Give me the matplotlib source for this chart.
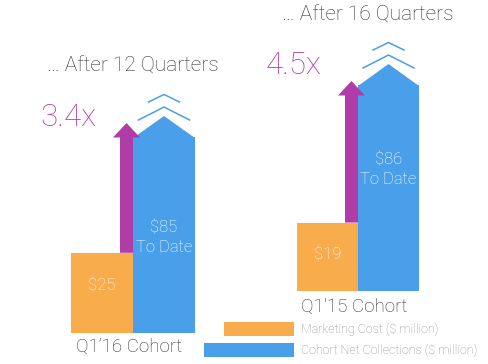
import matplotlib
matplotlib.use('Agg')
import matplotlib.pyplot as plt
from matplotlib.patches import Polygon, Rectangle
from matplotlib.lines import Line2D
from matplotlib.transforms import IdentityTransform
import numpy as np

# ---------------- data ----------------
cohorts = ["Q1\u201916 Cohort", "Q1'15 Cohort"]
periods = ["\u2026 After 12 Quarters", "\u2026 After 16 Quarters"]
marketing_cost = [25, 19]
net_collections = [85, 86]
legend_labels = ["Marketing Cost ($ million)", "Cohort Net Collections ($ million)"]

# ---------------- style ----------------
ORANGE = '#F8AC4C'
BLUE = '#4A9FEA'
PURPLE = '#B03CA8'
DARK = '#333333'
GREY = '#8C8C8C'
FONT = ['Roboto', 'DejaVu Sans']
W, H = 488, 364

fig = plt.figure(figsize=(W / 100, H / 100), dpi=100)
ident = IdentityTransform()

def top_px(x, y):
    """pixel (from top-left) -> display coords"""
    return (x, H - y)

P = 0.73
fwd = lambda v: np.sign(v) * np.abs(v) ** P
inv = lambda v: np.sign(v) * np.abs(v) ** (1 / P)

# layout (pixels from top-left): left, baseline, width, height
axes_px = [(71, 333, 124, 196), (297, 291, 122, 206)]
title_px = [(133, 66), (368, 15)]
cohort_px = [(129, 347), (354, 307)]
orange_label_y = [286, 255]
blue_label_y = [(228, 248), (160, 180)]
tip_offset = [14, 4]

for i in range(2):
    l, b, w, h = axes_px[i]
    ax = fig.add_axes([l / W, (H - b) / H, w / W, h / H])
    ax.set_yscale('function', functions=(fwd, inv))
    ax.set_xlim(0, 2)
    ax.set_ylim(0, net_collections[i])
    ax.axis('off')
    ax.bar([0, 1], [marketing_cost[i], net_collections[i]], width=1, align='edge',
           color=[ORANGE, BLUE], linewidth=0, clip_on=False, zorder=1)

    mc, nc = marketing_cost[i], net_collections[i]
    bl = ax.transData.transform((1, nc))
    br = ax.transData.transform((2, nc))
    ot = ax.transData.transform((1, mc))
    ol = ax.transData.transform((0, mc))
    cx = (bl[0] + br[0]) / 2
    top = bl[1]

    # blue arrow head
    fig.add_artist(Polygon([(bl[0], top - 1), (cx, top + 21), (br[0], top - 1)], closed=True,
                           facecolor=BLUE, edgecolor='none', transform=ident, zorder=2))
    # chevrons
    for half, dy_end, dy_peak in [(25.5, 17, 30), (15.5, 35, 42.5)]:
        fig.add_artist(Line2D([cx - half, cx, cx + half],
                              [top + dy_end, top + dy_peak, top + dy_end],
                              color=BLUE, lw=1.1, transform=ident, zorder=2,
                              solid_joinstyle='miter'))
    # purple arrow
    ax_c = bl[0] - 6.5
    tip = top + tip_offset[i]
    hb = tip - 14.5
    sh, hh = 6.5, 13.5
    pts = [(ax_c - sh, ot[1]), (ax_c - sh, hb), (ax_c - hh, hb), (ax_c, tip),
           (ax_c + hh, hb), (ax_c + sh, hb), (ax_c + sh, ot[1])]
    fig.add_artist(Polygon(pts, closed=True, facecolor=PURPLE, edgecolor='none',
                           transform=ident, zorder=3))

    # multiplier
    fig.text(ol[0] - 3, top + 19.5, f"{nc / mc:.1f}x", transform=ident,
             ha='center', va='center', color=PURPLE, fontsize=22.5,
             family=FONT, fontweight='light')
    # title
    tx, ty = title_px[i]
    fig.text(*top_px(tx, ty), periods[i], transform=ident, ha='center', va='center',
             color=DARK, fontsize=15, family=FONT, fontweight='light')
    # cohort
    cx2, cy2 = cohort_px[i]
    fig.text(*top_px(cx2, cy2), cohorts[i], transform=ident, ha='center', va='center',
             color=DARK, fontsize=13.5, family=FONT, fontweight='light')
    # value labels
    fig.text((ol[0] + bl[0]) / 2, H - orange_label_y[i], f"${mc}", transform=ident,
             ha='center', va='center', color='white', fontsize=12, family=FONT,
             fontweight='light')
    fig.text(cx, H - blue_label_y[i][0], f"${nc}", transform=ident,
             ha='center', va='center', color='white', fontsize=12, family=FONT,
             fontweight='light')
    fig.text(cx, H - blue_label_y[i][1], "To Date", transform=ident,
             ha='center', va='center', color='white', fontsize=12, family=FONT,
             fontweight='light')

# legend
legend_patch = [(224, 322, 294, 336), (204, 343, 294, 357)]
for (x0, y0, x1, y1), col, lab in zip(legend_patch, [ORANGE, BLUE], legend_labels):
    fig.add_artist(Rectangle((x0, H - y1), x1 - x0, y1 - y0, facecolor=col,
                             edgecolor='none', transform=ident))
    fig.text(301, H - (y0 + y1) / 2, lab, transform=ident, ha='left', va='center',
             color=GREY, fontsize=9, family=FONT, fontweight='light')

fig.savefig('out.png', dpi=100)
